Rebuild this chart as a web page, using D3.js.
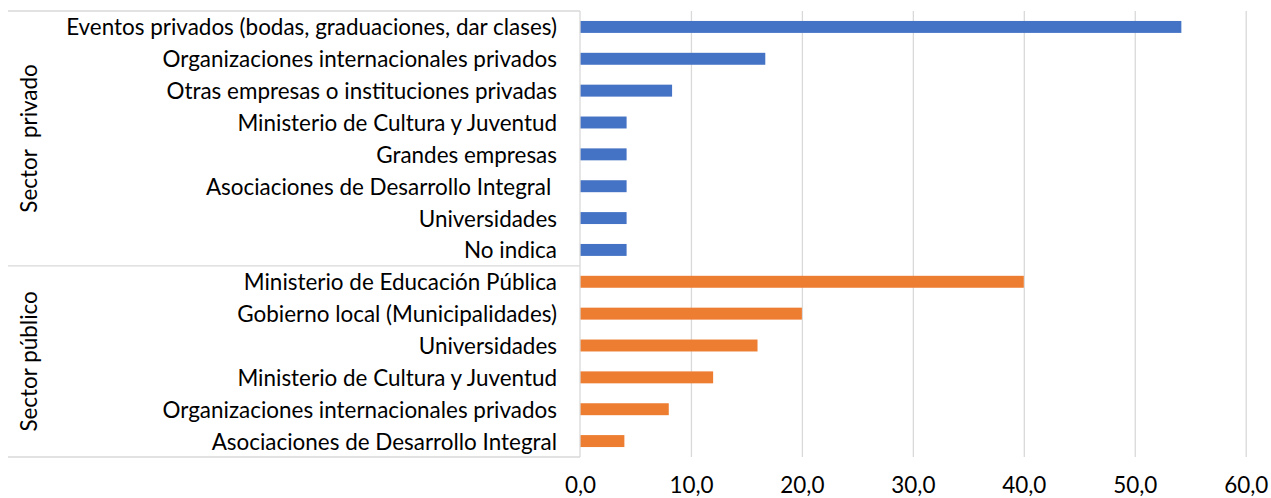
<!DOCTYPE html>
<html><head><meta charset="utf-8">
<script src="https://cdn.jsdelivr.net/npm/d3@7"></script>
<style>
html,body{margin:0;padding:0;background:#fff;}
text{font-family:Lato,"Open Sans",sans-serif;}
</style></head>
<body><svg id="c" width="1271" height="498"></svg>
<script>
const groupNames = ["Sector  privado", "Sector público"];
const privadoCategories = ["Eventos privados (bodas, graduaciones, dar clases)","Organizaciones internacionales privados","Otras empresas o instituciones privadas","Ministerio de Cultura y Juventud","Grandes empresas","Asociaciones de Desarrollo Integral ","Universidades","No indica"];
const privadoValues = [54.2,16.7,8.3,4.2,4.2,4.2,4.2,4.2];
const publicoCategories = ["Ministerio de Educación Pública","Gobierno local (Municipalidades)","Universidades","Ministerio de Cultura y Juventud","Organizaciones internacionales privados","Asociaciones de Desarrollo Integral"];
const publicoValues = [40,20,16,12,8,4];
const tickValues = [0,10,20,30,40,50,60];
const colors = ["#4472C4","#ED7D31"];

const rows = [];
privadoCategories.forEach((c,i)=>rows.push({key:"p"+i,label:c,value:privadoValues[i],g:0}));
publicoCategories.forEach((c,i)=>rows.push({key:"u"+i,label:c,value:publicoValues[i],g:1}));

const svg = d3.select("#c");
const x = d3.scaleLinear().domain([0,60]).range([580,1245.7]);
const y = d3.scaleBand().domain(rows.map(r=>r.key)).range([11,457]).padding(0);
const grid = "#d9d9d9";

// gridlines
svg.append("g").attr("transform","translate(0,457)")
  .call(d3.axisBottom(x).tickValues(tickValues.slice(1)).tickSize(-(457-11)).tickFormat(""))
  .call(g=>{g.select(".domain").remove(); g.selectAll("line").attr("stroke",grid).attr("stroke-width",1.3);});

// bars
const bh = y.step()*0.375;
svg.append("g").selectAll("rect").data(rows).join("rect")
  .attr("x",x(0)).attr("width",d=>x(d.value)-x(0))
  .attr("y",d=>y(d.key)+y.step()/2-bh/2).attr("height",bh)
  .attr("fill",d=>colors[d.g]);

// category axis lines
const leftX = 8;
const sepYs = [11, y(rows[privadoCategories.length].key), 457];
svg.append("g").selectAll("line").data(sepYs).join("line")
  .attr("x1",leftX).attr("x2",x(0)).attr("y1",d=>d).attr("y2",d=>d)
  .attr("stroke",grid).attr("stroke-width",1.3);
svg.append("line").attr("x1",x(0)).attr("x2",x(0)).attr("y1",11).attr("y2",457)
  .attr("stroke",grid).attr("stroke-width",1.3);

// category labels
const labG = svg.append("g");
const labs = labG.selectAll("text").data(rows).join("text")
  .attr("x",557).attr("y",d=>y(d.key)+y.step()/2)
  .attr("text-anchor","end").attr("dominant-baseline","central")
  .style("white-space","pre").attr("fill","#000").attr("font-size",20)
  .text(d=>d.label);
// fit font size so the longest label spans like the reference
const w0 = labs.filter((d,i)=>i===0).node().getComputedTextLength();
const fs = 20*491/w0;
labs.attr("font-size",fs);

// group labels
const groupCenters = [(sepYs[0]+sepYs[1])/2,(sepYs[1]+sepYs[2])/2];
svg.append("g").selectAll("text").data(groupNames).join("text")
  .attr("transform",(d,i)=>`translate(28,${groupCenters[i]}) rotate(-90)`)
  .attr("text-anchor","middle").attr("dominant-baseline","central")
  .style("white-space","pre").attr("fill","#000").attr("font-size",fs)
  .text(d=>d);

// x axis tick labels
svg.append("g").attr("transform","translate(0,457)")
  .call(d3.axisBottom(x).tickValues(tickValues).tickSize(0).tickPadding(20)
    .tickFormat(d=>d3.format(".1f")(d).replace(".",",")))
  .call(g=>{g.select(".domain").remove();
    g.selectAll("text").attr("font-size",fs).attr("fill","#000").attr("font-family","Lato, 'Open Sans', sans-serif");});
</script></body></html>
